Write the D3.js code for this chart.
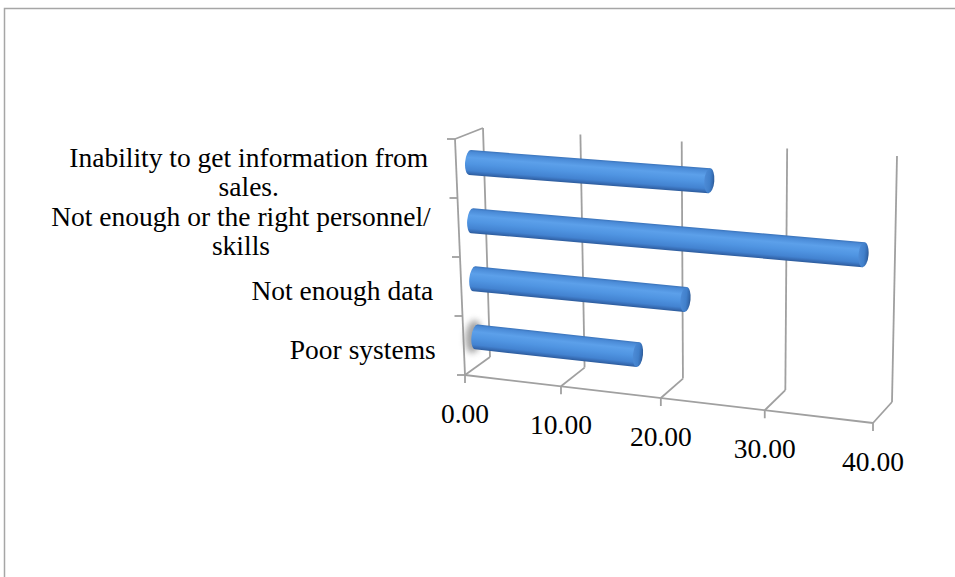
<!DOCTYPE html>
<html>
<head>
<meta charset="utf-8">
<script src="https://cdn.jsdelivr.net/npm/d3@7"></script>
<style>
  body { margin: 0; background: #fff; }
  svg { display: block; }
  text { font-family: "Liberation Serif", "Times New Roman", serif; fill: #000; }
</style>
</head>
<body>
<svg id="chart" width="955" height="577"></svg>
<script>
// Categories listed bottom to top, as stacked on the category axis
const categories = [
  "Poor systems",
  "Not enough data",
  "Not enough or the right personnel/ skills",
  "Inability to get information from sales."
];
const values = [16.67, 21.43, 38.10, 23.81];
const valueTicks = [0, 10, 20, 30, 40];
const tickLabels = ["0.00", "10.00", "20.00", "30.00", "40.00"];

const svg = d3.select("#chart");
const fontSize = 27.5;
const lineHeight = 29.5;
const gridColor = "#a0a0a0";

// Projected corners of the 3-D plot box (h: floor→top, z: front→back)
const box = {
  front: { lt: [455, 139], lb: [465, 375], rt: [875, 170], rb: [873, 423] },
  back:  { lt: [483, 128], lb: [490, 357], rt: [897, 156], rb: [892, 402] }
};

const valueScale = d3.scaleLinear().domain([0, 40]).range([0, 1]);
const catScale = d3.scaleBand().domain(categories).range([0, 1]);

// foreshortening along the value axis (right side nearer the eye)
const k = 0.923;
const depthT = v => { const u = valueScale(v); return k * u / (1 + (k - 1) * u); };

const lerp = (a, b, s) => [a[0] + (b[0] - a[0]) * s, a[1] + (b[1] - a[1]) * s];
function plane(p, t, h) {
  return lerp(lerp(p.lb, p.rb, t), lerp(p.lt, p.rt, t), h);
}
function project(v, h, z) {
  const t = depthT(v);
  return lerp(plane(box.front, t, h), plane(box.back, t, h), z);
}

// chart-area frame
svg.append("rect")
  .attr("x", 4.5).attr("y", 8.5).attr("width", 1200).attr("height", 800)
  .attr("fill", "none").attr("stroke", "#a6a6a6").attr("stroke-width", 1.5);

const defs = svg.append("defs");
const bodyGrad = defs.append("linearGradient").attr("id", "cylBody")
  .attr("x1", 0).attr("y1", 0).attr("x2", 0).attr("y2", 1);
[[0, "#3a73ba"], [0.08, "#4a8ad6"], [0.3, "#5ca0ea"], [0.55, "#5095e2"], [0.82, "#4383d1"], [0.94, "#3569b0"], [1, "#2d5c9c"]]
  .forEach(([o, c]) => bodyGrad.append("stop").attr("offset", o).attr("stop-color", c));
const capGrad = defs.append("linearGradient").attr("id", "cylCap")
  .attr("x1", 0).attr("y1", 0).attr("x2", 1).attr("y2", 0);
[[0, "#4d8bd6"], [0.55, "#4180cb"], [0.85, "#3469ae"], [1, "#2a568f"]]
  .forEach(([o, c]) => capGrad.append("stop").attr("offset", o).attr("stop-color", c));
defs.append("filter").attr("id", "soft").attr("x", "-100%").attr("y", "-100%").attr("width", "300%").attr("height", "300%")
  .append("feGaussianBlur").attr("stdDeviation", 3);

const line = (g, a, b) => g.append("line")
  .attr("x1", a[0]).attr("y1", a[1]).attr("x2", b[0]).attr("y2", b[1])
  .attr("stroke", gridColor).attr("stroke-width", 1.8);

// walls, floor and gridlines
const grid = svg.append("g");
valueTicks.forEach(v => {
  line(grid, project(v, 0, 1), project(v, 1, 1));
  line(grid, project(v, 0, 1), project(v, 0, 0));
});
line(grid, project(0, 1, 0), project(0, 1, 1));
line(grid, project(0, 0, 0), project(0, 1, 0));
line(grid, project(0, 0, 0), project(40, 0, 0));

// category-axis ticks
d3.range(categories.length + 1).forEach(i => {
  const p = project(0, i / categories.length, 0);
  line(grid, p, [p[0] - 8, p[1]]);
});
// value-axis ticks and labels
valueTicks.forEach((v, i) => {
  const p = project(v, 0, 0);
  line(grid, p, [p[0], p[1] + 8]);
  svg.append("text")
    .attr("x", p[0]).attr("y", p[1] + 48)
    .attr("text-anchor", "middle")
    .attr("font-size", fontSize)
    .text(tickLabels[i]);
});

// cylinders
const bars = svg.append("g");
categories.forEach((c, i) => {
  const hc = catScale(c) + catScale.bandwidth() / 2;
  const a = project(0, hc, 0.5);
  const b = project(values[i], hc, 0.5);
  const top = project(0, hc + catScale.bandwidth() * 0.215, 0.5);
  const bot = project(0, hc - catScale.bandwidth() * 0.215, 0.5);
  const r = Math.hypot(top[0] - bot[0], top[1] - bot[1]) / 2;
  const len = Math.hypot(b[0] - a[0], b[1] - a[1]);
  const ang = Math.atan2(b[1] - a[1], b[0] - a[0]) * 180 / Math.PI;
  const rx = 5;
  const g = bars.append("g").attr("transform", `translate(${a[0]},${a[1]}) rotate(${ang})`);
  if (i === 0) {
    // soft grey halo around the base of the first cylinder
    g.append("ellipse").attr("cx", -3).attr("cy", 0).attr("rx", 8).attr("ry", r + 4)
      .attr("fill", "#8a8a8a").attr("opacity", 0.8).attr("filter", "url(#soft)");
  }
  g.append("path")
    .attr("d", `M0,${-r} L${len},${-r} L${len},${r} L0,${r} A${rx},${r} 0 0 1 0,${-r} Z`)
    .attr("fill", "url(#cylBody)");
  g.append("ellipse").attr("cx", len).attr("cy", 0).attr("rx", rx).attr("ry", r)
    .attr("fill", "url(#cylCap)");
});

// category labels: wrapped, lines centred, block right-aligned to the axis
const measure = svg.append("text").attr("font-size", fontSize).attr("visibility", "hidden");
const width = s => { measure.text(s); return measure.node().getComputedTextLength(); };
const maxW = 410;
function wrap(s) {
  const words = s.split(" ");
  const lines = [];
  let cur = "";
  words.forEach(w => {
    const next = cur ? cur + " " + w : w;
    if (cur && width(next) > maxW) { lines.push(cur); cur = w; } else cur = next;
  });
  lines.push(cur);
  return lines;
}
categories.forEach(c => {
  const hc = catScale(c) + catScale.bandwidth() / 2;
  const p = project(0, hc, 0);
  const lines = wrap(c);
  const blockW = d3.max(lines, width);
  const cx = p[0] - 28 - blockW / 2;
  const y0 = p[1] + 4 - (lines.length - 1) * lineHeight / 2 + fontSize * 0.33;
  const t = svg.append("text").attr("font-size", fontSize).attr("text-anchor", "middle");
  lines.forEach((l, j) => t.append("tspan").attr("x", cx).attr("y", y0 + j * lineHeight).text(l));
});
measure.remove();
</script>
</body>
</html>
